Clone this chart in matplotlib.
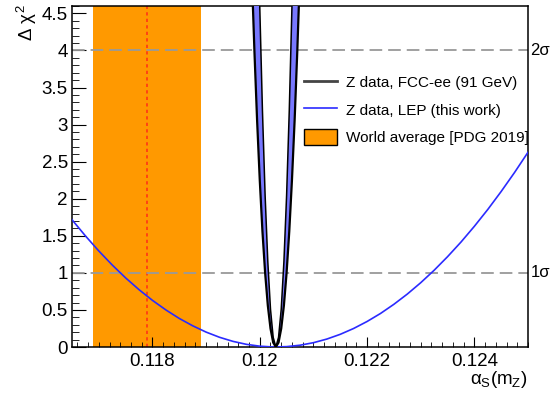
import matplotlib
matplotlib.use("Agg")
import matplotlib.pyplot as plt
from matplotlib.lines import Line2D
from matplotlib.patches import Patch
from matplotlib.ticker import MultipleLocator, FuncFormatter
from matplotlib.transforms import blended_transform_factory

# Z data, LEP (this work): delta chi2 scan
lep_alphas = [0.11650, 0.11675, 0.11700, 0.11725, 0.11750, 0.11775, 0.11800,
              0.11825, 0.11850, 0.11875, 0.11900, 0.11925, 0.11950, 0.11975,
              0.12000, 0.12025, 0.12050, 0.12075, 0.12100, 0.12125, 0.12150,
              0.12175, 0.12200, 0.12225, 0.12250, 0.12275, 0.12300, 0.12325,
              0.12350, 0.12375, 0.12400, 0.12425, 0.12450, 0.12475, 0.12500]
lep_dchi2 = [1.717, 1.499, 1.295, 1.106, 0.932, 0.773, 0.629,
             0.500, 0.385, 0.286, 0.201, 0.131, 0.076, 0.036,
             0.011, 0.000, 0.005, 0.024, 0.058, 0.107, 0.171,
             0.250, 0.344, 0.452, 0.576, 0.714, 0.867, 1.035,
             1.218, 1.415, 1.628, 1.855, 2.098, 2.355, 2.627]

# Z data, FCC-ee (91 GeV): band between outer and inner edge
fcc_alphas = [0.11985, 0.11990, 0.11995, 0.12000, 0.12005, 0.12010, 0.12015,
              0.12020, 0.12025, 0.12030, 0.12035, 0.12040, 0.12045, 0.12050,
              0.12055, 0.12060, 0.12065, 0.12070, 0.12075]
fcc_outer = [5.06, 4.00, 3.06, 2.25, 1.56, 1.00, 0.56, 0.25, 0.06, 0.00,
             0.06, 0.25, 0.56, 1.00, 1.56, 2.25, 3.06, 4.00, 5.06]
fcc_inner = [10.33, 8.16, 6.25, 4.59, 3.19, 2.04, 1.15, 0.51, 0.13, 0.00,
             0.13, 0.51, 1.15, 2.04, 3.19, 4.59, 6.25, 8.16, 10.33]

# world average PDG 2019
pdg_central = 0.1179
pdg_error = 0.0010

sigma_levels = [1, 4]
sigma_labels = ["1σ", "2σ"]

plt.rcParams["font.family"] = ["Liberation Sans", "DejaVu Sans"]
plt.rcParams["mathtext.fontset"] = "custom"
plt.rcParams["mathtext.rm"] = "Liberation Sans"
plt.rcParams["mathtext.it"] = "Liberation Sans"
plt.rcParams["mathtext.bf"] = "Liberation Sans"

fig = plt.figure(figsize=(5.58, 3.97), dpi=100)
ax = fig.add_axes([72 / 558, 50 / 397, 456 / 558, 341 / 397])

ax.axvspan(pdg_central - pdg_error, pdg_central + pdg_error, color="#ff9900", lw=0, zorder=1)
ax.axvline(pdg_central, color="#ff3c14", ls=(0, (1.8, 1.8)), lw=1.3, zorder=2)
for y in sigma_levels:
    ax.axhline(y, color="#999999", ls=(0, (7, 3.3)), lw=1.3, zorder=2)

ax.plot(lep_alphas, lep_dchi2, color="#2b2bff", lw=1.2, zorder=3)

ax.fill_between(fcc_alphas, fcc_outer, fcc_inner, color="#7878ff", lw=0, zorder=4)
ax.plot(fcc_alphas, fcc_outer, color="black", lw=1.6, zorder=5)
ax.plot(fcc_alphas, fcc_inner, color="black", lw=1.1, zorder=5)

ax.set_xlim(0.1165, 0.125)
ax.set_ylim(0, 4.6)

ax.xaxis.set_major_locator(MultipleLocator(0.002))
ax.xaxis.set_minor_locator(MultipleLocator(0.0002))
ax.yaxis.set_major_locator(MultipleLocator(0.5))
ax.yaxis.set_minor_locator(MultipleLocator(0.1))
fmt = FuncFormatter(lambda v, p: f"{v:g}")
ax.xaxis.set_major_formatter(fmt)
ax.yaxis.set_major_formatter(fmt)
ax.tick_params(which="both", direction="in", top=False, right=False, labelsize=13.5)
ax.tick_params(axis="y", which="major", length=10, pad=3)
ax.tick_params(axis="y", which="minor", length=5)
ax.tick_params(axis="x", which="major", length=7, pad=4)
ax.tick_params(axis="x", which="minor", length=3.5)
for sp in ax.spines.values():
    sp.set_linewidth(1.1)

trans = blended_transform_factory(ax.transAxes, ax.transData)
for y, lab in zip(sigma_levels, sigma_labels):
    ax.text(1.005, y, lab, transform=trans, ha="left", va="center", fontsize=12)

fig.text(27 / 558, 1 - 4 / 397, r"$\Delta\ \chi^{2}$", rotation=90, ha="center", va="top", fontsize=13.5)
fig.text(528 / 558, 1 - 390 / 397, r"$\alpha_{S}(m_{Z})$", ha="right", va="bottom", fontsize=13.5)

handles = [Line2D([], [], color="#444444", lw=2),
           Line2D([], [], color="#2b2bff", lw=1.2),
           Patch(facecolor="#ff9900", edgecolor="black", lw=1)]
labels = ["Z data, FCC-ee (91 GeV)", "Z data, LEP (this work)", "World average [PDG 2019]"]
ax.legend(handles, labels, loc="upper left", bbox_to_anchor=(0.508, 0.80), frameon=False,
          fontsize=11, borderpad=0, borderaxespad=0, handlelength=2.2,
          handleheight=1.25, handletextpad=0.55, labelspacing=0.72)

fig.savefig("out.png", dpi=100)
